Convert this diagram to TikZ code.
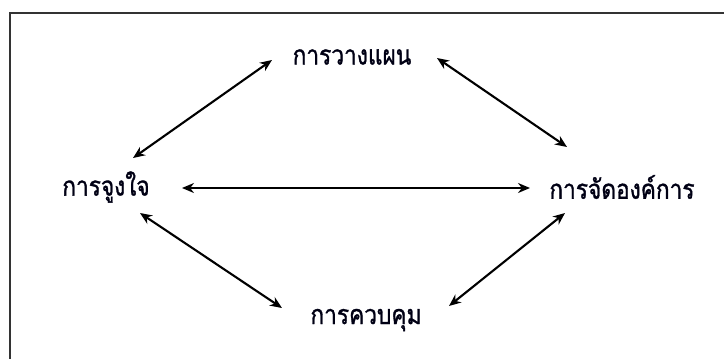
\documentclass[tikz,border=0pt]{standalone}
\usepackage{fontspec}
\newfontfamily\thaifont[Script=Thai,FakeStretch=0.84,FakeBold=1.2]{Loma}
\usetikzlibrary{arrows.meta}
\begin{document}
\begin{tikzpicture}[x=1pt,y=-1pt,
  lbl/.style={font=\thaifont\fontsize{27}{30}\selectfont, text=black!92!blue, inner sep=0pt},
  link/.style={line width=2.1pt, {Stealth[length=12pt,width=10pt]}-{Stealth[length=12pt,width=10pt]}}]
\useasboundingbox (0,0) rectangle (724,359);
\begin{scope}
\clip (0,0) rectangle (724,359);
\draw[line width=2.2pt, black!80] (10,13) rectangle (760,400);
\end{scope}
\node[lbl] (plan) at (352,57) {การวางแผน};
\node[lbl] (motiv) at (106,187) {การจูงใจ};
\node[lbl] (org) at (622,187) {การจัดองค์การ};
\node[lbl] (ctrl) at (366,320) {การควบคุม};
\coordinate (m1) at (133,158); \coordinate (p1) at (272,60);
\coordinate (p2) at (437,58); \coordinate (o1) at (567,147);
\coordinate (m2) at (182,188); \coordinate (o2) at (530,188);
\coordinate (m3) at (140,213); \coordinate (c1) at (282,308);
\coordinate (o3) at (565,213); \coordinate (c2) at (449,306);
\draw[link] (m1) -- (p1);
\draw[link] (p2) -- (o1);
\draw[link] (m2) -- (o2);
\draw[link] (m3) -- (c1);
\draw[link] (o3) -- (c2);
\end{tikzpicture}
\end{document}
